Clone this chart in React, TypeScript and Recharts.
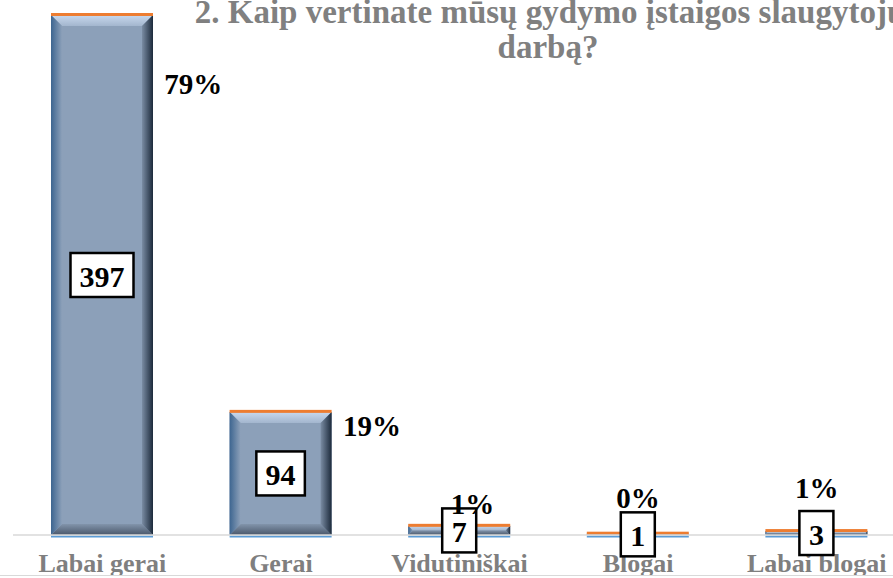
import React from "react";
import {
  BarChart,
  Bar,
  Line,
  XAxis,
  YAxis,
  LabelList,
} from "recharts";

const categories = ["Labai gerai", "Gerai", "Vidutiniškai", "Blogai", "Labai blogai"];
const counts = [397, 94, 7, 1, 3];
const percents = [79, 19, 1, 0, 1];

const titleLines = [
  "2. Kaip vertinate mūsų gydymo įstaigos slaugytojų",
  "darbą?",
];

const data = categories.map((name, i) => ({
  name,
  count: counts[i],
  pct: percents[i],
}));

// manual nudges for the small percent labels (as placed in the original)
const pctNudge: Array<[number, number]> = [
  [0, 0],
  [0, 0],
  [13, -25],
  [0, -37],
  [0, -41],
];

const FONT = "'Times New Roman', 'Liberation Serif', serif";

const BevelBar = (props: any) => {
  const { x, y, width: w, height: h } = props;
  const b = Math.max(0, Math.min(11, h / 2, w / 2));
  const bottom = y + h;
  return (
    <g>
      <rect x={x} y={y} width={w} height={h} fill="#8ca0b9" />
      <polygon
        points={`${x},${y} ${x + w},${y} ${x + w - b},${y + b} ${x + b},${y + b}`}
        fill="url(#bvTop)"
      />
      <polygon
        points={`${x},${bottom} ${x + w},${bottom} ${x + w - b},${bottom - b} ${x + b},${bottom - b}`}
        fill="url(#bvBottom)"
      />
      <polygon
        points={`${x},${y} ${x + b},${y + b} ${x + b},${bottom - b} ${x},${bottom}`}
        fill="url(#bvLeft)"
      />
      <polygon
        points={`${x + w},${y} ${x + w - b},${y + b} ${x + w - b},${bottom - b} ${x + w},${bottom}`}
        fill="url(#bvRight)"
      />
      <rect x={x} y={y - 2} width={w} height={3} fill="#ed7d31" />
      <rect x={x} y={bottom + 0.5} width={w} height={2} fill="#5b9bd5" />
    </g>
  );
};

const CountBox = (props: any) => {
  const { x, y, width, height, value } = props;
  const cx = x + width / 2;
  const cy = y + height / 2;
  const s = String(value);
  const bw = 19.5 + s.length * 14.5;
  const bh = 44;
  return (
    <g>
      <rect
        x={cx - bw / 2}
        y={cy - bh / 2}
        width={bw}
        height={bh}
        fill="#ffffff"
        stroke="#000000"
        strokeWidth={2.5}
      />
      <text
        x={cx}
        y={cy + 1}
        textAnchor="middle"
        dominantBaseline="central"
        fontFamily={FONT}
        fontWeight="bold"
        fontSize={30}
        fill="#000000"
      >
        {s}
      </text>
    </g>
  );
};

const PctLabel = (props: any) => {
  const { x, y, value, index } = props;
  const [dx, dy] = pctNudge[index] || [0, 0];
  const big = value >= 5;
  return (
    <text
      x={big ? x + 62 : x + dx}
      y={y + dy}
      textAnchor={big ? "start" : "middle"}
      dominantBaseline="central"
      fontFamily={FONT}
      fontWeight="bold"
      fontSize={29}
      fill="#000000"
    >
      {`${value}%`}
    </text>
  );
};

const CategoryTick = (props: any) => {
  const { x, y, payload } = props;
  return (
    <text
      x={x}
      y={y + 37}
      textAnchor="middle"
      fontFamily={FONT}
      fontWeight="bold"
      fontSize={26}
      fill="#7f7f7f"
    >
      {payload.value}
    </text>
  );
};

export default function App() {
  return (
    <div
      style={{
        width: 893,
        height: 578,
        overflow: "hidden",
        position: "relative",
        background: "#ffffff",
      }}
    >
      <style>{"html,body{margin:0;padding:0;overflow:hidden}"}</style>
      <div
        style={{
          width: 893,
          height: 575,
          overflow: "hidden",
          borderBottom: "1px solid #d9d9d9",
        }}
      >
        <BarChart
          width={906}
          height={578}
          data={data}
          margin={{ top: 15, right: 0, left: 13, bottom: 0 }}
          barSize={102}
        >
          <defs>
            <linearGradient id="bvTop" x1="0" y1="0" x2="0" y2="1">
              <stop offset="0%" stopColor="#c9d9ee" />
              <stop offset="100%" stopColor="#a3b6ce" />
            </linearGradient>
            <linearGradient id="bvBottom" x1="0" y1="0" x2="0" y2="1">
              <stop offset="0%" stopColor="#8294ab" />
              <stop offset="100%" stopColor="#4a586b" />
            </linearGradient>
            <linearGradient id="bvLeft" x1="0" y1="0" x2="1" y2="0">
              <stop offset="0%" stopColor="#3d6590" />
              <stop offset="100%" stopColor="#8ca0b9" />
            </linearGradient>
            <linearGradient id="bvRight" x1="0" y1="0" x2="1" y2="0">
              <stop offset="0%" stopColor="#7a8ca3" />
              <stop offset="100%" stopColor="#1c2a3b" />
            </linearGradient>
          </defs>
          <text
            x={550}
            y={23}
            textAnchor="middle"
            fontFamily={FONT}
            fontWeight="bold"
            fontSize={33}
            fill="#808080"
          >
            {titleLines[0]}
          </text>
          <text
            x={548}
            y={58}
            textAnchor="middle"
            fontFamily={FONT}
            fontWeight="bold"
            fontSize={33}
            fill="#808080"
          >
            {titleLines[1]}
          </text>
          <XAxis
            dataKey="name"
            height={43}
            tickLine={false}
            tickSize={0}
            tickMargin={0}
            axisLine={{ stroke: "#d9d9d9", strokeWidth: 1.5 }}
            tick={<CategoryTick />}
            interval={0}
          />
          <YAxis yAxisId="count" domain={[0, 397]} hide />
          <YAxis yAxisId="pct" orientation="right" domain={[0, 91]} hide />
          <Bar
            yAxisId="count"
            dataKey="count"
            shape={<BevelBar />}
            isAnimationActive={false}
          >
            <LabelList dataKey="count" content={<CountBox />} />
          </Bar>
          <Line
            yAxisId="pct"
            dataKey="pct"
            stroke="none"
            dot={false}
            activeDot={false}
            isAnimationActive={false}
          >
            <LabelList dataKey="pct" content={<PctLabel />} />
          </Line>
        </BarChart>
      </div>
    </div>
  );
}
